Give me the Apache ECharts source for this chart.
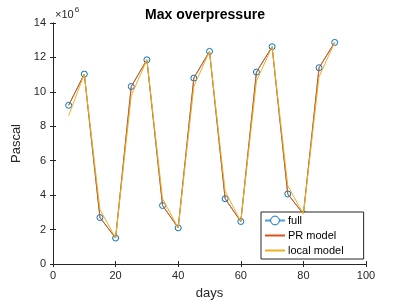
<!DOCTYPE html>
<html>
<head>
<meta charset="utf-8">
<script src="https://cdn.jsdelivr.net/npm/echarts@6/dist/echarts.min.js"></script>
<style>html,body{margin:0;padding:0;background:#fff}#c{width:407px;height:305px}</style>
</head>
<body>
<div id="c"></div>
<script>
var days = [5, 10, 15, 20, 25, 30, 35, 40, 45, 50, 55, 60, 65, 70, 75, 80, 85, 90];
var fullVals = [9.22, 11.03, 2.70, 1.51, 10.31, 11.86, 3.40, 2.10, 10.80, 12.35, 3.79, 2.47, 11.15, 12.62, 4.07, 2.90, 11.40, 12.87];
var prVals = [9.22, 11.03, 2.70, 1.51, 10.31, 11.86, 3.40, 2.10, 10.80, 12.35, 3.79, 2.47, 11.15, 12.62, 4.07, 2.90, 11.40, 12.87];
var localVals = [8.62, 11.03, 3.17, 1.51, 9.77, 11.86, 3.79, 2.10, 10.31, 12.35, 4.23, 2.47, 10.63, 12.62, 4.55, 2.90, 10.88, 12.87];
var scale = 1e6;
var xTicks = [0, 20, 40, 60, 80, 100];
var yTicks = [0, 2, 4, 6, 8, 10, 12, 14];

function pairs(vals) { return days.map(function (d, i) { return [d, vals[i] * scale]; }); }

var axisCol = '#262626';
var font = 'Liberation Sans, Arial, sans-serif';
var chart = echarts.init(document.getElementById('c'));
chart.setOption({
  animation: false,
  backgroundColor: '#fff',
  textStyle: { fontFamily: font },
  title: {
    text: 'Max overpressure', left: 200, top: 3, textAlign: 'center',
    textStyle: { fontSize: 14, fontWeight: 'bold', color: '#000', fontFamily: font }
  },
  grid: { left: 53, right: 41, top: 23, bottom: 38 },
  graphic: [{
    type: 'text', left: 55, top: 6,
    style: {
      text: '{a|×10}{b|6}',
      rich: {
        a: { fontSize: 11, fill: axisCol, fontFamily: font, verticalAlign: 'bottom' },
        b: { fontSize: 8, fill: axisCol, fontFamily: font, verticalAlign: 'top', padding: [0, 0, 6, 1] }
      }
    }
  }],
  legend: {
    orient: 'vertical', left: 261, top: 212, width: 97,
    backgroundColor: '#fff', borderColor: axisCol, borderWidth: 1,
    padding: [3, 20, 3, 3], itemGap: 4, itemWidth: 20, itemHeight: 11,
    textStyle: { fontSize: 11, color: '#000', fontFamily: font, padding: [0, 0, 0, -2] },
    data: [
      { name: 'full', itemStyle: { color: '#fff', borderColor: '#0072BD', borderWidth: 1 } },
      { name: 'PR model', itemStyle: { opacity: 0 } },
      { name: 'local model', itemStyle: { opacity: 0 } }
    ]
  },
  xAxis: [{
    type: 'value', min: 0, max: 100, interval: 20, name: 'days', nameLocation: 'middle', nameGap: 23,
    nameTextStyle: { fontSize: 13, color: axisCol, fontFamily: font },
    axisLine: { lineStyle: { color: axisCol, width: 1 } },
    axisTick: { inside: true, length: 3, lineStyle: { color: axisCol } },
    axisLabel: { fontSize: 11, color: axisCol, margin: 6, fontFamily: font,
      formatter: function (v) { return xTicks.indexOf(v) >= 0 ? String(v) : ''; } },
    splitLine: { show: false }
  }, {
    type: 'value', position: 'top', min: 0, max: 100, interval: 20,
    axisLine: { lineStyle: { color: axisCol, width: 1 } },
    axisTick: { inside: true, length: 3, lineStyle: { color: axisCol } },
    axisLabel: { show: false }, splitLine: { show: false }
  }],
  yAxis: [{
    type: 'value', min: 0, max: 14e6, interval: 2e6, name: 'Pascal', nameLocation: 'middle', nameGap: 27,
    nameTextStyle: { fontSize: 13, color: axisCol, fontFamily: font },
    axisLine: { show: true, lineStyle: { color: axisCol, width: 1 } },
    axisTick: { show: true, inside: true, length: 3, lineStyle: { color: axisCol } },
    axisLabel: { fontSize: 11, color: axisCol, margin: 7, fontFamily: font,
      formatter: function (v) { var t = v / scale; return yTicks.indexOf(t) >= 0 ? String(t) : ''; } },
    splitLine: { show: false }
  }, {
    type: 'value', position: 'right', min: 0, max: 14e6, interval: 2e6,
    axisLine: { show: true, lineStyle: { color: axisCol, width: 1 } },
    axisTick: { show: true, inside: true, length: 3, lineStyle: { color: axisCol } },
    axisLabel: { show: false }, splitLine: { show: false }
  }],
  series: [{
    name: 'full', type: 'line', data: pairs(fullVals), z: 2,
    symbol: 'circle', symbolSize: 6, showAllSymbol: true,
    color: '#0072BD',
    lineStyle: { width: 1, color: '#4a9fd8' },
    itemStyle: { color: 'rgba(255,255,255,0)', borderColor: '#0072BD', borderWidth: 1 }
  }, {
    name: 'PR model', type: 'line', data: pairs(prVals), symbol: 'none', color: '#D95319', z: 3,
    lineStyle: { width: 1, color: '#D95319' }
  }, {
    name: 'local model', type: 'line', data: pairs(localVals), symbol: 'none', color: '#EDB120', z: 4,
    lineStyle: { width: 1, color: '#EDB120' }
  }]
});
</script>
</body>
</html>
